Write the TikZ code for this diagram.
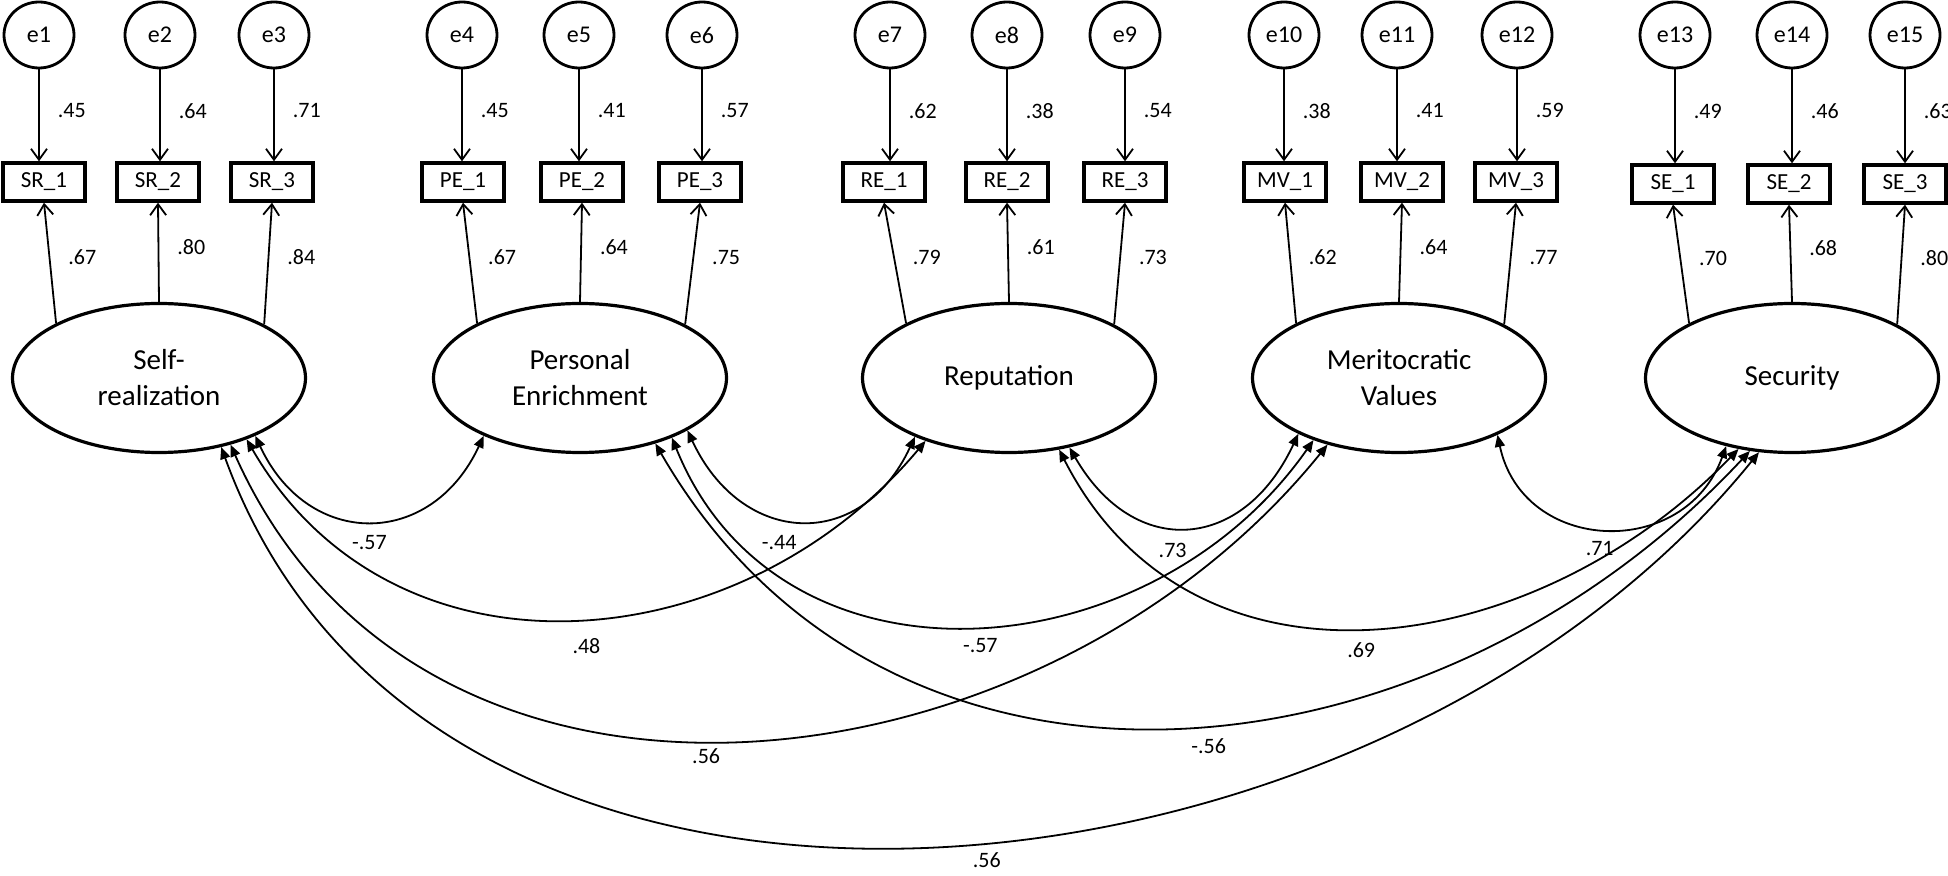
\documentclass[tikz,border=0pt]{standalone}
\usepackage{fontspec}
\setmainfont{Carlito}
\usetikzlibrary{arrows.meta,shapes.geometric,positioning}
\tikzset{
	err/.style={draw,ellipse,line width=1.4pt,minimum width=35pt,minimum height=33pt,inner sep=0pt,font=\fontsize{12}{14}\selectfont},
	obs/.style={draw,rectangle,line width=1.7pt,minimum width=41pt,minimum height=19pt,inner sep=0pt,font=\fontsize{11.5}{13}\selectfont},
	lat/.style={draw,ellipse,line width=1.6pt,minimum width=146.5pt,minimum height=74.5pt,inner sep=0pt,align=center,font=\fontsize{14.5}{18}\selectfont},
	num/.style={inner sep=0pt,font=\fontsize{11}{13}\selectfont},
	load/.style={line width=.9pt,-{Straight Barb[length=5.5pt,width=8pt]}},
	cov/.style={line width=.9pt,{Triangle[length=6pt,width=5pt]}-{Triangle[length=6pt,width=5pt]}}
}
\begin{document}
\begin{tikzpicture}[x=.5pt,y=.5pt]
		\useasboundingbox (0,0) rectangle (1948,-876);
		\def\yL{-378}
		\node[lat] (SR) at (159,\yL) {Self-\\realization};
		\node[lat] (PE) at (580,\yL) {Personal\\Enrichment};
		\node[lat] (RE) at (1009,\yL) {Reputation};
		\node[lat] (MV) at (1399,\yL) {Meritocratic\\Values};
		\node[lat] (SE) at (1792,\yL) {Security};
		\foreach \i/\x in {1/39,2/160,3/274,4/462,5/579,6/702,7/890,8/1007,9/1125,10/1284,11/1397,12/1517,13/1675,14/1792,15/1905}
			\node[err] (e\i) at (\x,-35) {e\i};
		\foreach \g/\i/\x in {SR/1/44,SR/2/158,SR/3/272,PE/1/463,PE/2/582,PE/3/700,RE/1/884,RE/2/1007,RE/3/1125,MV/1/1285,MV/2/1402,MV/3/1516}
			\node[obs] (\g\i) at (\x,-182) {\g\_\i};
		\foreach \i/\x in {1/1673,2/1789,3/1905}
			\node[obs] (SE\i) at (\x,-184) {SE\_\i};
		\foreach \i/\bx/\v in {1/SR1/.45,2/SR2/.64,3/SR3/.71,4/PE1/.45,5/PE2/.41,6/PE3/.57,7/RE1/.62,8/RE2/.38,9/RE3/.54,10/MV1/.38,11/MV2/.41,12/MV3/.59,13/SE1/.49,14/SE2/.46,15/SE3/.63}
			\draw[load] (e\i) -- (e\i |- \bx.north) node[num,pos=.45,right=9pt] {\v};
		\foreach \g/\a/\i/\v in {SR/152.6/1/.67,SR/90/2/.80,SR/27.4/3/.84,PE/152.6/1/.67,PE/90/2/.64,PE/27.4/3/.75,RE/152.6/1/.79,RE/90/2/.61,RE/27.4/3/.73,MV/152.6/1/.62,MV/90/2/.64,MV/27.4/3/.77,SE/152.6/1/.70,SE/90/2/.68,SE/27.4/3/.80}
			\draw[load] (\g.\a) -- (\g\i.south) node[num,pos=.55,right=9pt] {\v};
		\draw[cov] (SR.-31.5) .. controls +(-65:125) and +(-115:125) .. (PE.-149.8) node[num,pos=.5,yshift=-11pt] {-.57};
		\draw[cov] (PE.-26.6) .. controls +(-65:128) and +(-115:128) .. (RE.-148.5) node[num,pos=.5,xshift=-11pt,yshift=-11pt] {-.44};
		\draw[cov] (RE.-49.2) .. controls +(-60:130) and +(-115:130) .. (MV.-151.2) node[num,pos=.5,xshift=-7.5pt,yshift=-11.5pt] {.73};
		\draw[cov] (MV.-30.6) .. controls +(-78:122) and +(-110:122) .. (SE.-134.7) node[num,pos=.5,xshift=-3pt,yshift=-10pt] {.71};
		\draw[cov] (SR.-35.7) .. controls +(-60:292) and +(-130:292) .. (RE.-143.3) node[num,pos=.5,xshift=8pt,yshift=-13.5pt] {.48};
		\draw[cov] (PE.-33.8) .. controls +(-68:286) and +(-125:286) .. (MV.-144.3) node[num,pos=.5,xshift=4.5pt,yshift=-9.5pt] {-.57};
		\draw[cov] (RE.-55) .. controls +(-63:295) and +(-134:295) .. (SE.-127.9) node[num,pos=.5,xshift=-5.5pt,yshift=-11.5pt] {.69};
		\draw[cov] (SR.-43.2) .. controls +(-66:470) and +(-129:460) .. (MV.-137.3) node[num,pos=.5,xshift=-18pt,yshift=-8pt] {.56};
		\draw[cov] (PE.-41.2) .. controls +(-60:467) and +(-133:467) .. (SE.-120.6) node[num,pos=.5,xshift=19pt,yshift=-9.5pt] {-.56};
		\draw[cov] (SR.-48) .. controls +(-70:615) and +(-129:615) .. (SE.-114) node[num,pos=.5,xshift=31.5pt,yshift=-7.5pt] {.56};
	\end{tikzpicture}
\end{document}
